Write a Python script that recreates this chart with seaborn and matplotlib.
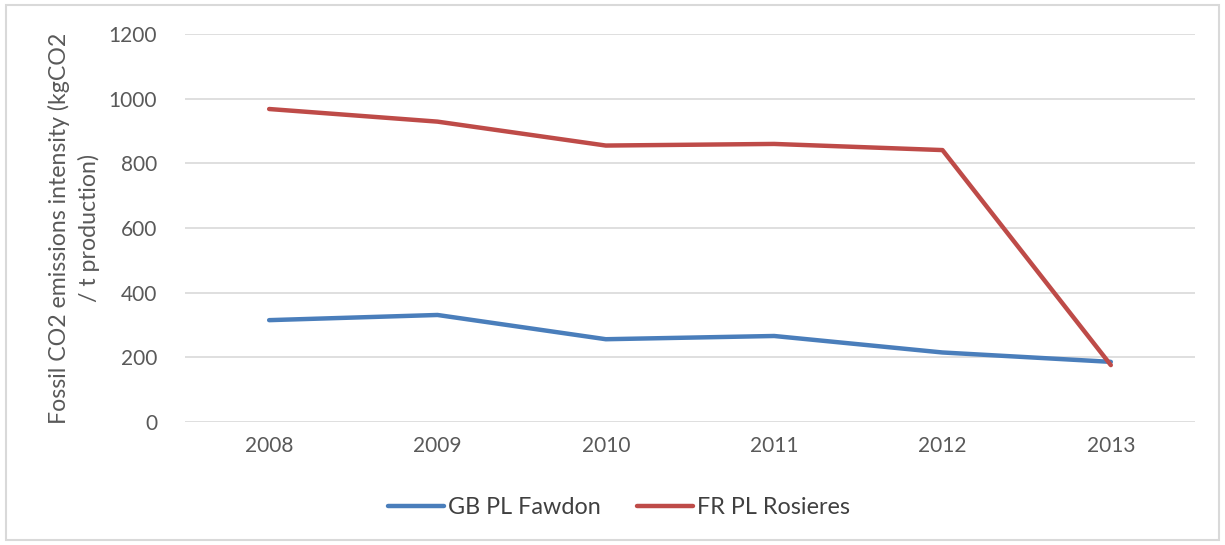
import matplotlib
matplotlib.use("Agg")
import matplotlib.pyplot as plt
import seaborn as sns
import pandas as pd
from matplotlib.patches import Rectangle

years = ["2008", "2009", "2010", "2011", "2012", "2013"]
fawdon = [315, 331, 256, 266, 215, 186]
rosieres = [968, 929, 855, 860, 841, 176]
series_names = ["GB PL Fawdon", "FR PL Rosieres"]
y_ticks = [0, 200, 400, 600, 800, 1000, 1200]

df = pd.DataFrame({
    "year": years * 2,
    "value": fawdon + rosieres,
    "series": [series_names[0]] * len(years) + [series_names[1]] * len(years),
})

sns.set_theme(style="white")
plt.rcParams["font.family"] = ["Lato", "DejaVu Sans"]

fig = plt.figure(figsize=(12.25, 5.45), dpi=100)
ax = fig.add_axes([0.151, 0.2257, 0.8245, 0.7119])

palette = {series_names[0]: "#4A7EBB", series_names[1]: "#BE4B48"}
sns.lineplot(data=df, x="year", y="value", hue="series", palette=palette,
             linewidth=3.2, ax=ax, sort=False)

ax.set_xlim(-0.5, len(years) - 0.5)
ax.set_ylim(0, 1200)
ax.set_yticks(y_ticks)
ax.yaxis.grid(True, color="#D9D9D9", linewidth=1.2)
ax.xaxis.grid(False)
for s in ax.spines.values():
    s.set_visible(False)
ax.tick_params(axis="both", length=0, labelsize=15, labelcolor="#595959")
ax.tick_params(axis="y", pad=20)
ax.tick_params(axis="x", pad=10)
ax.set_xlabel("")
ax.set_ylabel("Fossil CO2 emissions intensity (kgCO2\n/ t production)",
              fontsize=16.7, color="#595959", labelpad=6, linespacing=1.45)

handles, labels = ax.get_legend_handles_labels()
ax.legend(handles, labels, loc="center", bbox_to_anchor=(0.505, 0.068),
          bbox_transform=fig.transFigure,
          ncol=2, frameon=False, fontsize=16.8, handlelength=2.4,
          handletextpad=0.17, columnspacing=1.55, labelcolor="#404040")

fig.patches.append(Rectangle((0.005, 0.009), 0.99, 0.982, transform=fig.transFigure,
                             fill=False, edgecolor="#D9D9D9", linewidth=1.5))

fig.savefig("out.png", dpi=100)
